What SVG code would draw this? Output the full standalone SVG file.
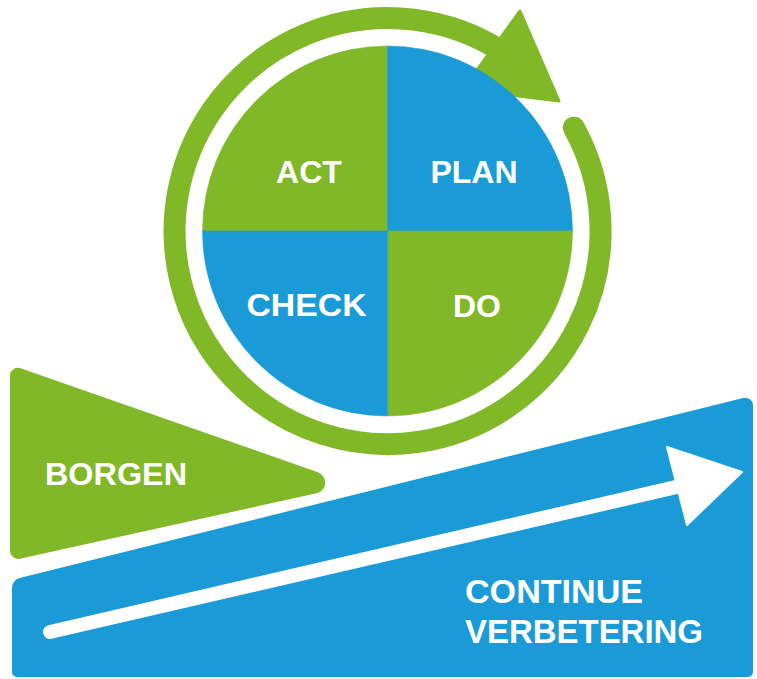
<svg xmlns="http://www.w3.org/2000/svg" width="757" height="679" viewBox="0 0 757 679">
<style>
.g{fill:#80b828}
.b{fill:#1a9bd7}
.qg{fill:#80b828;stroke:#80b828;stroke-width:0.6}
.qb{fill:#1a9bd7;stroke:#1a9bd7;stroke-width:0.6}
.t{fill:#ffffff;font-family:"Liberation Sans",Arial,sans-serif;font-weight:bold}
.q{font-size:32px;text-anchor:middle}
</style>
<rect width="757" height="679" fill="#ffffff"/>
<g id="connectors">
  <path id="cycle-ring" d="M 573.8 127.7 A 213 213 0 1 1 503.5 52.4" fill="none" stroke="#80b828" stroke-width="22" stroke-linecap="round"/>
  <polygon id="cycle-head" class="g" points="520,11 559,101 463,89" stroke="#80b828" stroke-width="3" stroke-linejoin="round"/>
</g>
<g id="act">
  <path class="qg" d="M 387.5 231 L 202.5 231 A 185 185 0 0 1 387.5 46 Z"/>
  <text class="t q" x="309" y="183">ACT</text>
</g>
<g id="plan">
  <path class="qb" d="M 387.5 231 L 387.5 46 A 185 185 0 0 1 572.5 231 Z"/>
  <text class="t q" x="474" y="183">PLAN</text>
</g>
<g id="do">
  <path class="qg" d="M 387.5 231 L 572.5 231 A 185 185 0 0 1 387.5 416 Z"/>
  <text class="t q" x="477" y="316.5">DO</text>
</g>
<g id="check">
  <path class="qb" d="M 387.5 231 L 387.5 416 A 185 185 0 0 1 202.5 231 Z"/>
  <text class="t q" x="306.5" y="316" textLength="120" lengthAdjust="spacingAndGlyphs">CHECK</text>
</g>
<g id="borgen">
  <path class="g" d="M 10 375.8 A 8 8 0 0 1 20.7 368.2 L 317.9 472.2 A 11 11 0 0 1 316.6 493.3 L 19.7 558.7 A 8 8 0 0 1 10 550.8 Z"/>
  <text class="t" x="45" y="485" font-size="32" textLength="142" lengthAdjust="spacingAndGlyphs">BORGEN</text>
</g>
<g id="continue-verbetering">
  <path class="b" d="M 12 587.8 A 10 10 0 0 1 19.6 578.1 L 743.1 397.9 A 8 8 0 0 1 753 405.6 L 753 672 A 5 5 0 0 1 748 677 L 17 677 A 5 5 0 0 1 12 672 Z"/>
  <g id="improvement-arrow">
    <line x1="50" y1="632" x2="678" y2="486.6" stroke="#ffffff" stroke-width="14" stroke-linecap="round"/>
    <polygon points="667,447 742,472 687,525" fill="#ffffff" stroke="#ffffff" stroke-width="2" stroke-linejoin="round"/>
  </g>
  <text class="t" x="465" y="602.5" font-size="34" textLength="178" lengthAdjust="spacingAndGlyphs">CONTINUE</text>
  <text class="t" x="465" y="643" font-size="34" textLength="238" lengthAdjust="spacingAndGlyphs">VERBETERING</text>
</g>
</svg>
